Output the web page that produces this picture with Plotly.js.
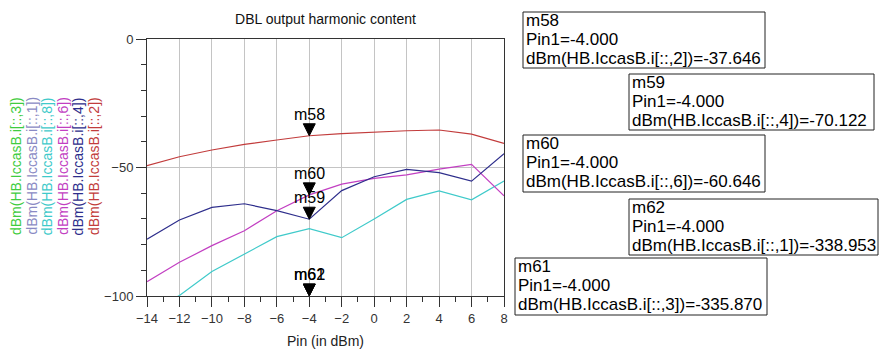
<!DOCTYPE html>
<html>
<head>
<meta charset="utf-8">
<script src="https://cdn.plot.ly/plotly-3.0.1.min.js"></script>
<style>
  html, body { margin: 0; padding: 0; background: #fff; }
  #chart { width: 880px; height: 349px; }
</style>
</head>
<body>
<div id="chart"></div>
<script>
// Input power sweep (dBm)
const pin = [-14, -12, -10, -8, -6, -4, -2, 0, 2, 4, 6, 8];

// Harmonic currents of IccasB, in dBm
const harm2 = [-49.3, -45.8, -43.2, -41.0, -39.3, -37.646, -36.8, -36.2, -35.7, -35.4, -37.0, -40.6];
const harm4 = [-77.9, -70.4, -65.5, -64.1, -66.8, -70.122, -59.0, -53.6, -50.7, -52.0, -55.3, -44.6];
const harm6 = [-94.4, -86.9, -80.4, -74.6, -66.8, -60.646, -56.5, -54.2, -52.9, -50.6, -48.8, -61.0];
const harm8 = [-106.5, -99.8, -90.5, -83.8, -76.9, -73.8, -77.3, -70.0, -62.4, -59.1, -62.6, -55.3];
const harm1 = [-338.6, -339.1, -338.8, -339.0, -338.7, -338.953, -338.9, -339.2, -338.8, -339.0, -338.7, -338.9];
const harm3 = [-335.5, -336.1, -335.7, -335.9, -336.0, -335.870, -335.8, -336.2, -335.6, -335.9, -336.0, -335.7];

// Legend entries (left to right) and their colours
const legendLabels = ['dBm(HB.IccasB.i[::,3])', 'dBm(HB.IccasB.i[::,1])', 'dBm(HB.IccasB.i[::,8])',
                      'dBm(HB.IccasB.i[::,6])', 'dBm(HB.IccasB.i[::,4])', 'dBm(HB.IccasB.i[::,2])'];
const legendColors = ['#3fcc3f', '#8a8ac4', '#3fcaca', '#c23fc2', '#2e2e8c', '#c23c3c'];

// Markers placed on the traces
const markerNames = ['m58', 'm59', 'm60', 'm62', 'm61'];
const markerPin = [-4, -4, -4, -4, -4];
const markerVals = [-37.646, -70.122, -60.646, -338.953, -335.870];
const markerExpr = ['dBm(HB.IccasB.i[::,2])', 'dBm(HB.IccasB.i[::,4])', 'dBm(HB.IccasB.i[::,6])',
                    'dBm(HB.IccasB.i[::,1])', 'dBm(HB.IccasB.i[::,3])'];

// Readout boxes, pixel rectangles [left, top, right, bottom]
const boxRects = [[523, 12, 765, 68], [629, 74, 874, 130], [523, 135, 765, 192],
                  [629, 199, 878, 255], [515, 258, 767, 315]];

const W = 880, H = 349;
const plotL = 147, plotR = 504, plotT = 39, plotB = 296;
const yRange = [-100, 0];
const px2x = p => (p - plotL) / (plotR - plotL);
const px2y = p => (plotB - p) / (plotB - plotT);

const seriesList = [
  { y: harm3, color: legendColors[0] },
  { y: harm1, color: legendColors[1] },
  { y: harm8, color: legendColors[2] },
  { y: harm6, color: legendColors[3] },
  { y: harm4, color: legendColors[4] },
  { y: harm2, color: legendColors[5] }
];

const traces = seriesList.map(s => ({
  type: 'scatter', mode: 'lines', x: pin, y: s.y,
  line: { color: s.color, width: 1.2 }, hoverinfo: 'skip', showlegend: false
}));

const FONT = 'Liberation Sans, Arial, sans-serif';
const annotations = [];
const shapes = [];

// Rotated legend labels
legendLabels.forEach((t, i) => {
  annotations.push({
    text: t, xref: 'paper', yref: 'paper',
    x: px2x(16 + i * 15.6), y: px2y(166), xanchor: 'center', yanchor: 'middle',
    textangle: -90, showarrow: false,
    font: { family: FONT, size: 14, color: legendColors[i] }
  });
});

// Marker triangles and names (clamped to the visible y range)
markerNames.forEach((name, i) => {
  const yv = Math.max(markerVals[i], yRange[0]);
  shapes.push({
    type: 'path', xref: 'x', yref: 'y',
    xsizemode: 'pixel', ysizemode: 'pixel',
    xanchor: markerPin[i], yanchor: yv,
    path: 'M -6 12 L 6 12 L 0 0 Z',
    fillcolor: '#000', line: { color: '#000', width: 1 }
  });
  annotations.push({
    text: name, x: markerPin[i], y: yv, xref: 'x', yref: 'y',
    xanchor: 'center', yanchor: 'bottom', yshift: 11, showarrow: false,
    font: { family: FONT, size: 16, color: '#000' }
  });
});

// Readout boxes
markerNames.forEach((name, i) => {
  const r = boxRects[i];
  shapes.push({
    type: 'rect', xref: 'paper', yref: 'paper',
    x0: px2x(r[0]), x1: px2x(r[2]), y0: px2y(r[3]), y1: px2y(r[1]),
    line: { color: '#222', width: 1 }, fillcolor: 'rgba(0,0,0,0)'
  });
  const lines = [name, 'Pin1=' + markerPin[i].toFixed(3), markerExpr[i] + '=' + markerVals[i].toFixed(3)];
  lines.forEach((ln, k) => {
    const baseline = r[1] + 14.7 + k * 18.8;
    annotations.push({
      text: ln, xref: 'paper', yref: 'paper',
      x: px2x(r[0] + 1), y: px2y(baseline - 5.8), xanchor: 'left', yanchor: 'middle',
      showarrow: false, font: { family: FONT, size: 17, color: '#000' }
    });
  });
});

const layout = {
  width: W, height: H,
  margin: { l: plotL, r: W - plotR, t: plotT, b: H - plotB, pad: 0 },
  paper_bgcolor: '#fff', plot_bgcolor: '#fff',
  showlegend: false,
  title: {
    text: 'DBL output harmonic content',
    font: { family: FONT, size: 14, color: '#111' },
    xref: 'paper', x: 0.5, xanchor: 'center',
    yref: 'container', y: 1 - 19 / H, yanchor: 'middle'
  },
  xaxis: {
    range: [-14, 8], tickmode: 'linear', tick0: -14, dtick: 2,
    ticks: 'outside', ticklen: 10, tickcolor: '#333', tickwidth: 1,
    minor: { dtick: 1, ticks: 'outside', ticklen: 5, tickcolor: '#333', showgrid: false },
    showgrid: true, gridcolor: '#c4c4c4', gridwidth: 1,
    showline: true, linecolor: '#333', linewidth: 1, mirror: true,
    zeroline: false,
    tickfont: { family: FONT, size: 13, color: '#333' },
    title: { text: 'Pin (in dBm)', font: { family: FONT, size: 14, color: '#222' }, standoff: 16 }
  },
  yaxis: {
    range: yRange, tickmode: 'linear', tick0: 0, dtick: 50,
    ticks: 'outside', ticklen: 10, tickcolor: '#333', tickwidth: 1,
    minor: { dtick: 10, ticks: 'outside', ticklen: 5, tickcolor: '#333', showgrid: false },
    showgrid: true, gridcolor: '#c4c4c4', gridwidth: 1,
    showline: true, linecolor: '#333', linewidth: 1, mirror: true,
    zeroline: false,
    tickfont: { family: FONT, size: 13, color: '#333' }
  },
  annotations: annotations,
  shapes: shapes
};

Plotly.newPlot('chart', traces, layout, { staticPlot: true, displayModeBar: false });
</script>
</body>
</html>
